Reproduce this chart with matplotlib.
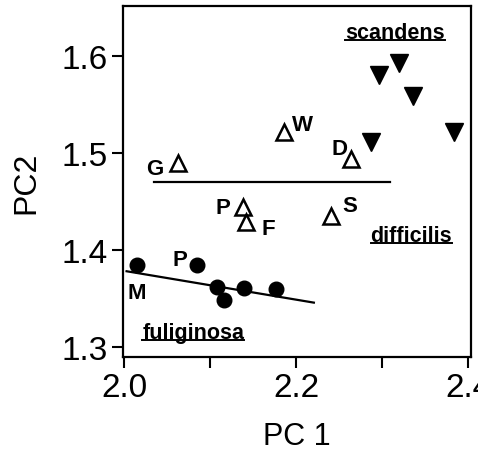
import matplotlib
matplotlib.use('Agg')
import matplotlib.pyplot as plt
from matplotlib.lines import Line2D

plt.rcParams['font.family'] = ['Liberation Sans', 'DejaVu Sans']

# scandens (filled, pointing down)
scandens_pc1 = [2.2965, 2.3197, 2.336, 2.3836, 2.287]
scandens_pc2 = [1.581, 1.593, 1.559, 1.522, 1.511]

# difficilis (open triangles) and island letters
difficilis_pc1 = [2.0623, 2.186, 2.2644, 2.138, 2.1417, 2.241]
difficilis_pc2 = [1.490, 1.522, 1.4935, 1.444, 1.429, 1.435]

# fuliginosa (filled circles)
fuliginosa_pc1 = [2.0147, 2.085, 2.1084, 2.116, 2.1397, 2.1765]
fuliginosa_pc2 = [1.384, 1.384, 1.3618, 1.348, 1.361, 1.360]

# lines
difficilis_line_x = [2.0352, 2.309]
difficilis_line_y = [1.470, 1.470]
fuliginosa_line_x = [2.003, 2.2207]
fuliginosa_line_y = [1.378, 1.3456]

# point labels
point_labels = ['G', 'W', 'D', 'P', 'F', 'S', 'M', 'P']
label_x = [2.036, 2.2075, 2.250, 2.1146, 2.1676, 2.2625, 2.0147, 2.065]
label_y = [1.4837, 1.529, 1.505, 1.444, 1.4223, 1.4457, 1.356, 1.3906]

species = ['scandens', 'difficilis', 'fuliginosa']
species_x = [2.3147, 2.334, 2.0805]
species_y = [1.619, 1.4095, 1.3095]

fig = plt.figure(figsize=(4.78, 4.52), dpi=100)
ax = fig.add_axes([0.2567, 0.208, 0.728, 0.777])

ax.plot(difficilis_line_x, difficilis_line_y, color='black', lw=1.6)
ax.plot(fuliginosa_line_x, fuliginosa_line_y, color='black', lw=1.6)

ax.plot(scandens_pc1, scandens_pc2, 'v', color='black', ms=13.5, ls='none')
ax.plot(difficilis_pc1, difficilis_pc2, '^', mfc='white', mec='black',
        mew=1.8, ms=11, ls='none')
ax.plot(fuliginosa_pc1, fuliginosa_pc2, 'o', color='black', ms=10.5, ls='none')

for lab, x, y in zip(point_labels, label_x, label_y):
    ax.text(x, y, lab, ha='center', va='center', fontsize=16, fontweight='bold')

sp_texts = []
for name, x, y in zip(species, species_x, species_y):
    t = ax.text(x, y, name, ha='center', va='baseline', fontsize=15.5,
                fontweight='bold')
    sp_texts.append(t)

ax.set_xlim(1.9985, 2.403)
ax.set_ylim(1.2895, 1.652)
ax.set_xticks([2.0, 2.1, 2.2, 2.3, 2.4])
ax.set_xticklabels(['2.0', '', '2.2', '', '2.4'])
ax.set_yticks([1.3, 1.4, 1.5, 1.6])
ax.set_yticklabels(['1.3', '1.4', '1.5', '1.6'])
ax.tick_params(direction='out', length=8, width=1.5, labelsize=24, pad=3)
for s in ax.spines.values():
    s.set_linewidth(1.6)

ax.set_xlabel('PC 1', fontsize=22, labelpad=13)
ax.set_ylabel('PC2', fontsize=23, labelpad=14)

# underline the species names
fig.canvas.draw()
for t in sp_texts:
    bb = t.get_window_extent()
    xd, yd = ax.transData.transform((t.get_position()[0], t.get_position()[1]))
    fig.add_artist(Line2D([bb.x0, bb.x1], [yd - 2, yd - 2], transform=None,
                          color='black', lw=1.4))

fig.savefig('out.png', dpi=100)
